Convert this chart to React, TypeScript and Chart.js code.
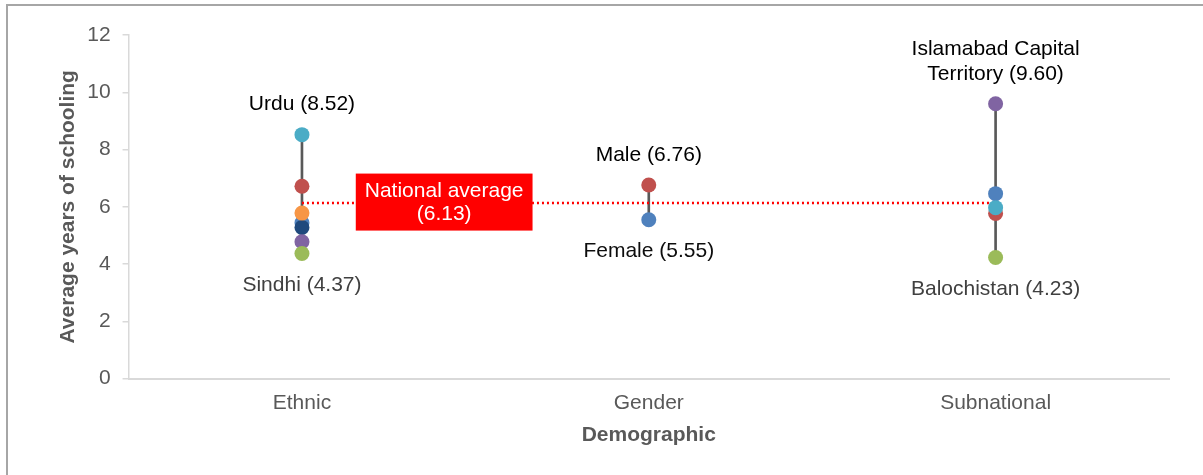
import React, { useEffect, useRef } from 'react';
import { Chart, registerables } from 'chart.js';

Chart.register(...registerables);

const categories = ['Ethnic', 'Gender', 'Subnational'];
const ethnicValues = [5.44, 5.28, 4.78, 4.37, 5.78, 6.72, 8.52];
const ethnicColors = ['#4f81bd', '#1f497d', '#8064a2', '#9bbb59', '#f79646', '#c0504d', '#4bacc6'];
const genderValues = [5.55, 6.76];
const genderColors = ['#4f81bd', '#c0504d'];
const subnationalValues = [6.46, 4.23, 5.77, 5.97, 9.6];
const subnationalColors = ['#4f81bd', '#9bbb59', '#c0504d', '#4bacc6', '#8064a2'];
const nationalAverage = 6.13;

const labelNames = [['Urdu'], ['Sindhi'], ['Male'], ['Female'], ['Islamabad Capital', 'Territory'], ['Balochistan']];
const labelValues = [8.52, 4.37, 6.76, 5.55, 9.6, 4.23];
const labelCategories = [0, 0, 1, 1, 2, 2];
const labelAbove = [true, false, true, false, true, false];
const labelColors = ['#000000', '#404040', '#000000', '#0d0d0d', '#000000', '#404040'];

const yMin = 0;
const yMax = 12;
const yStep = 2;

const FONT = "'Liberation Sans', Arial, sans-serif";

const groupValues = [ethnicValues, genderValues, subnationalValues];
const groupColors = [ethnicColors, genderColors, subnationalColors];

const labelPlugin = {
  id: 'labelPlugin',
  afterDatasetsDraw(chart: any) {
    const { ctx, scales } = chart;
    const xs = scales.x;
    const ys = scales.y;
    ctx.save();
    ctx.font = `21px ${FONT}`;
    ctx.textAlign = 'center';
    ctx.textBaseline = 'middle';
    const lineGap = 25;
    labelValues.forEach((v, i) => {
      const px = xs.getPixelForValue(labelCategories[i]);
      const py = ys.getPixelForValue(v);
      const lines = labelNames[i].slice();
      lines[lines.length - 1] = `${lines[lines.length - 1]} (${v.toFixed(2)})`;
      ctx.fillStyle = labelColors[i];
      if (labelAbove[i]) {
        const lastY = py - 30;
        lines.forEach((t, k) => {
          ctx.fillText(t, px, lastY - (lines.length - 1 - k) * lineGap);
        });
      } else {
        const firstY = py + 32;
        lines.forEach((t, k) => {
          ctx.fillText(t, px, firstY + k * lineGap);
        });
      }
    });

    // national average box
    const x0 = xs.getPixelForValue(0);
    const x1 = xs.getPixelForValue(1);
    const cx = x0 + 0.41 * (x1 - x0);
    const cy = ys.getPixelForValue(nationalAverage);
    const boxLines = ['National average', `(${nationalAverage.toFixed(2)})`];
    const w = Math.max(...boxLines.map((t) => ctx.measureText(t).width)) + 18;
    const h = 57;
    ctx.fillStyle = '#ff0000';
    ctx.fillRect(cx - w / 2, cy - h / 2 - 1, w, h);
    ctx.fillStyle = '#ffffff';
    ctx.fillText(boxLines[0], cx, cy - 12);
    ctx.fillText(boxLines[1], cx, cy + 11);
    ctx.restore();
  },
};

export default function App() {
  const canvasRef = useRef<HTMLCanvasElement | null>(null);

  useEffect(() => {
    document.body.style.margin = '0';
    const canvas = canvasRef.current;
    if (!canvas) return;

    const pointDatasets = groupValues.map((vals, gi) => ({
      type: 'line' as const,
      data: vals.map((v) => ({ x: categories[gi], y: v })),
      showLine: false,
      pointRadius: 7.5,
      pointHoverRadius: 7.5,
      pointBorderWidth: 0,
      pointBackgroundColor: groupColors[gi],
      pointBorderColor: groupColors[gi],
      order: 0,
    }));

    const ranges = groupValues.map((vals) => [Math.min(...vals), Math.max(...vals)]);

    const chart = new Chart(canvas, {
      type: 'bar',
      data: {
        labels: categories,
        datasets: [
          ...pointDatasets,
          {
            type: 'line' as const,
            data: categories.map((c) => ({ x: c, y: nationalAverage })),
            borderColor: '#ff0000',
            borderWidth: 2.5,
            borderDash: [2, 3],
            pointRadius: 0,
            fill: false,
            order: 2,
          } as any,
          {
            type: 'bar' as const,
            data: ranges as any,
            backgroundColor: '#595959',
            barThickness: 2,
            order: 3,
          },
        ],
      },
      options: {
        responsive: false,
        animation: false,
        events: [],
        layout: { padding: { left: 56, right: 34, top: 35, bottom: 27 } },
        plugins: {
          legend: { display: false },
          tooltip: { enabled: false },
        },
        scales: {
          x: {
            type: 'category',
            offset: true,
            grid: { display: false, drawTicks: false },
            border: { display: true, color: '#d9d9d9', width: 2 },
            ticks: {
              color: '#595959',
              font: { family: FONT, size: 21 },
              padding: 12,
            },
            title: {
              display: true,
              text: 'Demographic',
              color: '#595959',
              font: { family: FONT, size: 21, weight: 'bold' },
              padding: { top: -5, bottom: 0 },
            },
          },
          y: {
            type: 'linear',
            min: yMin,
            max: yMax,
            grid: { drawOnChartArea: false, color: '#d9d9d9', tickLength: 6, lineWidth: 1.5 },
            border: { display: true, color: '#d9d9d9', width: 1.5 },
            ticks: {
              stepSize: yStep,
              color: '#595959',
              font: { family: FONT, size: 21 },
              padding: 12,
            },
            title: {
              display: true,
              text: 'Average years of schooling',
              color: '#595959',
              font: { family: FONT, size: 21, weight: 'bold' },
              padding: { top: 0, bottom: -6 },
            },
          },
        },
      },
      plugins: [labelPlugin],
    });

    return () => chart.destroy();
  }, []);

  return (
    <div style={{ position: 'relative', width: 1203, height: 475, background: '#ffffff', overflow: 'hidden' }}>
      <canvas ref={canvasRef} width={1203} height={475} style={{ display: 'block' }} />
      <div
        style={{
          position: 'absolute',
          left: 6,
          top: 4,
          width: 1300,
          height: 600,
          borderTop: '2px solid #a6a6a6',
          borderLeft: '2px solid #a6a6a6',
          pointerEvents: 'none',
        }}
      />
    </div>
  );
}
